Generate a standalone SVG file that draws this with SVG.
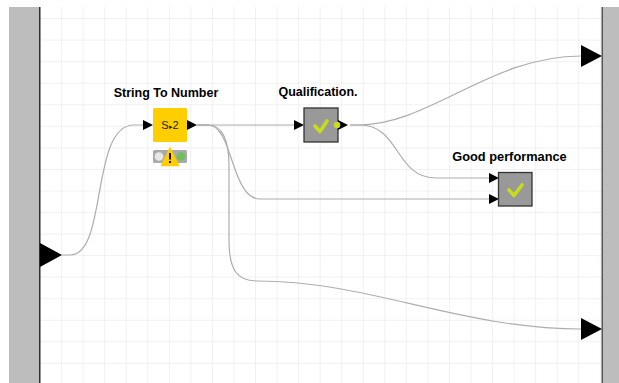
<svg xmlns="http://www.w3.org/2000/svg" width="619" height="383" viewBox="0 0 619 383">
<defs>
<pattern id="grid" x="40.5" y="-2.5" width="21.55" height="21.55" patternUnits="userSpaceOnUse">
<path d="M21.55 0V21.55M0 21.55H21.55" fill="none" stroke="#e4e4e4" stroke-width="1"/>
</pattern>
</defs>
<style>
.lbl{font:bold 12.5px "Liberation Sans",Arial,sans-serif;fill:#000;text-anchor:middle}
.conn{fill:none;stroke:#adadad;stroke-width:1.2}
.port{fill:#000}
.meta{fill:#bdbdbd}
.edge{fill:#2e2e2e}
.box{fill:#999;stroke:#333;stroke-width:1.3}
.check{fill:none;stroke:#c6dc1c;stroke-width:3.6;stroke-linecap:round;stroke-linejoin:round}
</style>
<rect width="619" height="383" fill="#fff"/>
<rect x="40" y="7" width="562" height="376" fill="url(#grid)"/>
<g id="connectors">
<path class="conn" d="M62 255H70C108 255 90 125 134 125H143"/>
<path class="conn" d="M197 125H295"/>
<path class="conn" d="M197 125H208C233 125 231 199 260 199H489"/>
<path class="conn" d="M197 125H208C222 125 229 140 229 165V240C229 270 237 281 257 281C370 281 460 329 581 329"/>
<path class="conn" d="M350 125H358C430 125 490 56 581 56"/>
<path class="conn" d="M350 125H360C400 125 395 178 436 178H489"/>
</g>
<g id="input-bar">
<rect class="meta" x="9" y="7" width="30" height="376"/>
<rect class="edge" x="39" y="7" width="1.5" height="376"/>
<path class="port" d="M40 243L62 255L40 267Z"/>
</g>
<g id="output-bar">
<rect class="meta" x="603" y="7" width="16" height="376"/>
<rect x="601.5" y="7" width="1.5" height="376" fill="#555"/>
<path class="port" d="M581 45L602 56L581 67Z"/>
<path class="port" d="M581 318L602 329L581 340Z"/>
</g>
<g id="string-to-number">
<text class="lbl" x="166" y="97">String To Number</text>
<path class="port" d="M143 120L153 125L143 130Z"/>
<rect x="153" y="108" width="34" height="34" rx="1.5" fill="#ffce00"/>
<path class="port" d="M187 120L197 125L187 130Z"/>
<text x="170" y="129" font-family="Liberation Sans,Arial,sans-serif" font-size="11" text-anchor="middle" fill="#222">S<tspan font-size="7">▸</tspan>2</text>
<rect x="153" y="150" width="34" height="13" rx="1.5" fill="#aaa"/>
<circle cx="159" cy="156.500" r="4.300" fill="#e8e8e8"/>
<circle cx="181" cy="156.500" r="4.300" fill="#6fc05a"/>
<path d="M170 148L178.500 165.500H161.500Z" fill="#ffce00" stroke="#ffce00" stroke-width="1.500" stroke-linejoin="round"/>
<rect x="169" y="153" width="2" height="6.500" fill="#111"/>
<rect x="169" y="161" width="2" height="2" fill="#111"/>
</g>
<g id="qualification">
<text class="lbl" x="318" y="96">Qualification.</text>
<path class="port" d="M294 120L304 125L294 130Z"/>
<rect class="box" x="304" y="108" width="34" height="34"/>
<path class="check" d="M315 126L320 131.500L327 121"/>
<path class="port" d="M338 120L348 125L338 130Z"/>
<circle cx="337" cy="125" r="3.300" fill="#c6dc1c"/>
</g>
<g id="good-performance">
<text class="lbl" x="509.500" y="161" style="font-size:12.8px">Good performance</text>
<path class="port" d="M489 173L499 178L489 183Z"/>
<path class="port" d="M489 194L499 199L489 204Z"/>
<rect class="box" x="498.500" y="172.500" width="33.500" height="33.500"/>
<path class="check" d="M509 190L514 195.500L522 185"/>
</g>
</svg>
